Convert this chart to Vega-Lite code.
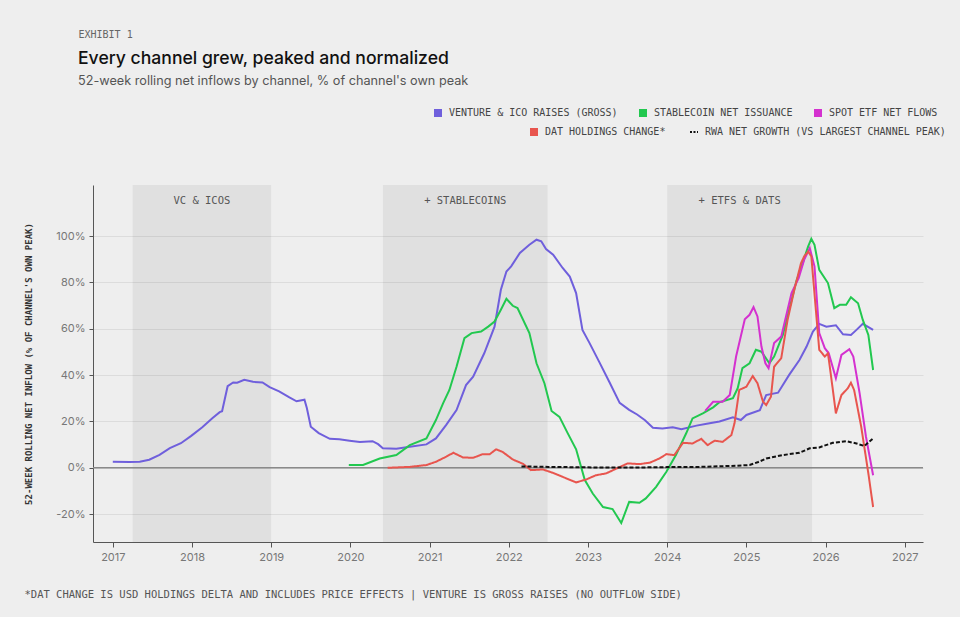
{
  "$schema": "https://vega.github.io/schema/vega-lite/v6.json",
  "width": 830,
  "height": 357,
  "autosize": "none",
  "padding": {"left": 93, "top": 185, "right": 37, "bottom": 75},
  "background": "#eeeeee",
  "title": {
    "text": "Every channel grew, peaked and normalized",
    "subtitle": "52-week rolling net inflows by channel, % of channel's own peak",
    "anchor": "start",
    "frame": "group",
    "dx": -15,
    "offset": -59,
    "font": "Inter",
    "fontSize": 17.6,
    "fontWeight": 500,
    "color": "#111111",
    "subtitleFont": "Inter",
    "subtitleFontSize": 12.7,
    "subtitleColor": "#555555",
    "subtitlePadding": 8
  },
  "config": {
    "view": {"stroke": null},
    "axis": {
      "labelFont": "Inter",
      "labelFontSize": 11,
      "labelColor": "#777777",
      "domainColor": "#555555",
      "tickColor": "#555555",
      "gridColor": "#dcdcdc",
      "titleFont": "DejaVu Sans Mono",
      "titleColor": "#333333"
    }
  },
  "datasets": {
    "bands": [
      {"start": 2017.25, "end": 2019.0, "mid": 2018.125, "label": "VC & ICOS"},
      {"start": 2020.41, "end": 2022.49, "mid": 2021.45, "label": "+ STABLECOINS"},
      {"start": 2024.0, "end": 2025.83, "mid": 2024.915, "label": "+ ETFS & DATS"}
    ],
    "series": [
      {"s": "venture", "t": 2017.00, "v": 2.6},
      {"s": "venture", "t": 2017.21, "v": 2.5},
      {"s": "venture", "t": 2017.34, "v": 2.6},
      {"s": "venture", "t": 2017.46, "v": 3.5},
      {"s": "venture", "t": 2017.59, "v": 5.6},
      {"s": "venture", "t": 2017.72, "v": 8.5},
      {"s": "venture", "t": 2017.86, "v": 10.6},
      {"s": "venture", "t": 2017.99, "v": 13.8},
      {"s": "venture", "t": 2018.13, "v": 17.5},
      {"s": "venture", "t": 2018.26, "v": 21.5},
      {"s": "venture", "t": 2018.35, "v": 24.0},
      {"s": "venture", "t": 2018.38, "v": 24.4},
      {"s": "venture", "t": 2018.45, "v": 35.2},
      {"s": "venture", "t": 2018.52, "v": 36.8},
      {"s": "venture", "t": 2018.57, "v": 36.7},
      {"s": "venture", "t": 2018.66, "v": 38.0},
      {"s": "venture", "t": 2018.77, "v": 37.1},
      {"s": "venture", "t": 2018.89, "v": 36.8},
      {"s": "venture", "t": 2018.98, "v": 34.8},
      {"s": "venture", "t": 2019.10, "v": 33.0},
      {"s": "venture", "t": 2019.23, "v": 30.4},
      {"s": "venture", "t": 2019.32, "v": 28.7},
      {"s": "venture", "t": 2019.42, "v": 29.4},
      {"s": "venture", "t": 2019.45, "v": 25.8},
      {"s": "venture", "t": 2019.50, "v": 17.7},
      {"s": "venture", "t": 2019.60, "v": 15.0},
      {"s": "venture", "t": 2019.74, "v": 12.5},
      {"s": "venture", "t": 2019.86, "v": 12.3},
      {"s": "venture", "t": 2019.99, "v": 11.7},
      {"s": "venture", "t": 2020.12, "v": 11.1},
      {"s": "venture", "t": 2020.28, "v": 11.5},
      {"s": "venture", "t": 2020.35, "v": 10.2},
      {"s": "venture", "t": 2020.41, "v": 8.4},
      {"s": "venture", "t": 2020.58, "v": 8.2},
      {"s": "venture", "t": 2020.75, "v": 9.1},
      {"s": "venture", "t": 2020.96, "v": 10.1},
      {"s": "venture", "t": 2021.08, "v": 12.7},
      {"s": "venture", "t": 2021.21, "v": 18.5},
      {"s": "venture", "t": 2021.34, "v": 24.9},
      {"s": "venture", "t": 2021.46, "v": 35.7},
      {"s": "venture", "t": 2021.55, "v": 39.3},
      {"s": "venture", "t": 2021.69, "v": 49.4},
      {"s": "venture", "t": 2021.82, "v": 60.9},
      {"s": "venture", "t": 2021.90, "v": 76.8},
      {"s": "venture", "t": 2021.97, "v": 84.7},
      {"s": "venture", "t": 2022.03, "v": 86.9},
      {"s": "venture", "t": 2022.14, "v": 92.7},
      {"s": "venture", "t": 2022.26, "v": 96.2},
      {"s": "venture", "t": 2022.35, "v": 98.4},
      {"s": "venture", "t": 2022.41, "v": 97.7},
      {"s": "venture", "t": 2022.47, "v": 94.4},
      {"s": "venture", "t": 2022.56, "v": 91.9},
      {"s": "venture", "t": 2022.68, "v": 86.2},
      {"s": "venture", "t": 2022.77, "v": 82.5},
      {"s": "venture", "t": 2022.85, "v": 75.4},
      {"s": "venture", "t": 2022.93, "v": 59.5},
      {"s": "venture", "t": 2023.02, "v": 53.8},
      {"s": "venture", "t": 2023.14, "v": 45.8},
      {"s": "venture", "t": 2023.27, "v": 37.0},
      {"s": "venture", "t": 2023.40, "v": 28.0},
      {"s": "venture", "t": 2023.52, "v": 25.0},
      {"s": "venture", "t": 2023.62, "v": 23.0},
      {"s": "venture", "t": 2023.72, "v": 20.5},
      {"s": "venture", "t": 2023.82, "v": 17.3},
      {"s": "venture", "t": 2023.94, "v": 17.0},
      {"s": "venture", "t": 2024.07, "v": 17.5},
      {"s": "venture", "t": 2024.18, "v": 16.6},
      {"s": "venture", "t": 2024.37, "v": 18.2},
      {"s": "venture", "t": 2024.50, "v": 19.0},
      {"s": "venture", "t": 2024.66, "v": 20.0},
      {"s": "venture", "t": 2024.83, "v": 21.8},
      {"s": "venture", "t": 2024.93, "v": 20.6},
      {"s": "venture", "t": 2025.00, "v": 22.8},
      {"s": "venture", "t": 2025.17, "v": 24.9},
      {"s": "venture", "t": 2025.25, "v": 31.4},
      {"s": "venture", "t": 2025.40, "v": 32.4},
      {"s": "venture", "t": 2025.54, "v": 40.1},
      {"s": "venture", "t": 2025.67, "v": 46.5},
      {"s": "venture", "t": 2025.76, "v": 52.3},
      {"s": "venture", "t": 2025.84, "v": 58.8},
      {"s": "venture", "t": 2025.92, "v": 62.1},
      {"s": "venture", "t": 2026.01, "v": 60.9},
      {"s": "venture", "t": 2026.13, "v": 61.5},
      {"s": "venture", "t": 2026.22, "v": 57.6},
      {"s": "venture", "t": 2026.32, "v": 57.3},
      {"s": "venture", "t": 2026.39, "v": 59.5},
      {"s": "venture", "t": 2026.47, "v": 62.1},
      {"s": "venture", "t": 2026.60, "v": 59.5},
      {"s": "stablecoin", "t": 2019.98, "v": 1.2},
      {"s": "stablecoin", "t": 2020.16, "v": 1.2},
      {"s": "stablecoin", "t": 2020.37, "v": 4.0},
      {"s": "stablecoin", "t": 2020.58, "v": 5.5},
      {"s": "stablecoin", "t": 2020.75, "v": 9.8},
      {"s": "stablecoin", "t": 2020.96, "v": 12.7},
      {"s": "stablecoin", "t": 2021.08, "v": 20.6},
      {"s": "stablecoin", "t": 2021.17, "v": 27.8},
      {"s": "stablecoin", "t": 2021.25, "v": 33.6},
      {"s": "stablecoin", "t": 2021.34, "v": 43.6},
      {"s": "stablecoin", "t": 2021.44, "v": 55.9},
      {"s": "stablecoin", "t": 2021.53, "v": 58.1},
      {"s": "stablecoin", "t": 2021.65, "v": 58.8},
      {"s": "stablecoin", "t": 2021.74, "v": 60.9},
      {"s": "stablecoin", "t": 2021.82, "v": 63.1},
      {"s": "stablecoin", "t": 2021.90, "v": 68.2},
      {"s": "stablecoin", "t": 2021.97, "v": 72.9},
      {"s": "stablecoin", "t": 2022.05, "v": 69.9},
      {"s": "stablecoin", "t": 2022.11, "v": 68.9},
      {"s": "stablecoin", "t": 2022.26, "v": 58.1},
      {"s": "stablecoin", "t": 2022.35, "v": 45.1},
      {"s": "stablecoin", "t": 2022.45, "v": 36.5},
      {"s": "stablecoin", "t": 2022.54, "v": 24.5},
      {"s": "stablecoin", "t": 2022.64, "v": 22.0},
      {"s": "stablecoin", "t": 2022.74, "v": 15.2},
      {"s": "stablecoin", "t": 2022.85, "v": 8.0},
      {"s": "stablecoin", "t": 2022.96, "v": -5.3},
      {"s": "stablecoin", "t": 2023.06, "v": -11.1},
      {"s": "stablecoin", "t": 2023.19, "v": -16.9},
      {"s": "stablecoin", "t": 2023.31, "v": -17.8},
      {"s": "stablecoin", "t": 2023.42, "v": -23.8},
      {"s": "stablecoin", "t": 2023.52, "v": -14.7},
      {"s": "stablecoin", "t": 2023.65, "v": -15.1},
      {"s": "stablecoin", "t": 2023.73, "v": -13.2},
      {"s": "stablecoin", "t": 2023.86, "v": -8.2},
      {"s": "stablecoin", "t": 2023.99, "v": -1.7},
      {"s": "stablecoin", "t": 2024.11, "v": 5.5},
      {"s": "stablecoin", "t": 2024.24, "v": 14.9},
      {"s": "stablecoin", "t": 2024.32, "v": 21.3},
      {"s": "stablecoin", "t": 2024.45, "v": 23.5},
      {"s": "stablecoin", "t": 2024.58, "v": 26.1},
      {"s": "stablecoin", "t": 2024.66, "v": 28.3},
      {"s": "stablecoin", "t": 2024.83, "v": 30.0},
      {"s": "stablecoin", "t": 2024.89, "v": 34.3},
      {"s": "stablecoin", "t": 2024.95, "v": 43.0},
      {"s": "stablecoin", "t": 2025.04, "v": 45.1},
      {"s": "stablecoin", "t": 2025.12, "v": 50.9},
      {"s": "stablecoin", "t": 2025.19, "v": 50.1},
      {"s": "stablecoin", "t": 2025.29, "v": 45.1},
      {"s": "stablecoin", "t": 2025.35, "v": 48.0},
      {"s": "stablecoin", "t": 2025.46, "v": 57.3},
      {"s": "stablecoin", "t": 2025.54, "v": 68.2},
      {"s": "stablecoin", "t": 2025.63, "v": 80.4},
      {"s": "stablecoin", "t": 2025.71, "v": 88.3},
      {"s": "stablecoin", "t": 2025.78, "v": 95.5},
      {"s": "stablecoin", "t": 2025.82, "v": 98.8},
      {"s": "stablecoin", "t": 2025.86, "v": 96.2},
      {"s": "stablecoin", "t": 2025.92, "v": 85.4},
      {"s": "stablecoin", "t": 2026.03, "v": 79.7},
      {"s": "stablecoin", "t": 2026.11, "v": 68.9},
      {"s": "stablecoin", "t": 2026.18, "v": 70.3},
      {"s": "stablecoin", "t": 2026.26, "v": 70.3},
      {"s": "stablecoin", "t": 2026.32, "v": 73.6},
      {"s": "stablecoin", "t": 2026.41, "v": 71.0},
      {"s": "stablecoin", "t": 2026.47, "v": 63.8},
      {"s": "stablecoin", "t": 2026.54, "v": 57.3},
      {"s": "stablecoin", "t": 2026.60, "v": 42.2},
      {"s": "etf", "t": 2024.48, "v": 24.6},
      {"s": "etf", "t": 2024.58, "v": 28.5},
      {"s": "etf", "t": 2024.70, "v": 28.5},
      {"s": "etf", "t": 2024.79, "v": 31.4},
      {"s": "etf", "t": 2024.87, "v": 48.0},
      {"s": "etf", "t": 2024.98, "v": 64.1},
      {"s": "etf", "t": 2025.04, "v": 66.0},
      {"s": "etf", "t": 2025.09, "v": 69.3},
      {"s": "etf", "t": 2025.14, "v": 65.3},
      {"s": "etf", "t": 2025.19, "v": 52.3},
      {"s": "etf", "t": 2025.24, "v": 45.1},
      {"s": "etf", "t": 2025.28, "v": 43.0},
      {"s": "etf", "t": 2025.35, "v": 53.8},
      {"s": "etf", "t": 2025.44, "v": 56.6},
      {"s": "etf", "t": 2025.57, "v": 75.4},
      {"s": "etf", "t": 2025.66, "v": 81.8},
      {"s": "etf", "t": 2025.73, "v": 89.8},
      {"s": "etf", "t": 2025.80, "v": 94.8},
      {"s": "etf", "t": 2025.86, "v": 86.9},
      {"s": "etf", "t": 2025.92, "v": 58.1},
      {"s": "etf", "t": 2025.99, "v": 51.6},
      {"s": "etf", "t": 2026.04, "v": 49.4},
      {"s": "etf", "t": 2026.13, "v": 38.6},
      {"s": "etf", "t": 2026.20, "v": 48.7},
      {"s": "etf", "t": 2026.30, "v": 51.2},
      {"s": "etf", "t": 2026.35, "v": 48.0},
      {"s": "etf", "t": 2026.43, "v": 32.1},
      {"s": "etf", "t": 2026.51, "v": 13.4},
      {"s": "etf", "t": 2026.60, "v": -3.2},
      {"s": "dat", "t": 2020.47, "v": 0.0},
      {"s": "dat", "t": 2020.75, "v": 0.4},
      {"s": "dat", "t": 2020.96, "v": 1.2},
      {"s": "dat", "t": 2021.08, "v": 2.6},
      {"s": "dat", "t": 2021.21, "v": 4.8},
      {"s": "dat", "t": 2021.30, "v": 6.5},
      {"s": "dat", "t": 2021.42, "v": 4.5},
      {"s": "dat", "t": 2021.55, "v": 4.3},
      {"s": "dat", "t": 2021.67, "v": 5.9},
      {"s": "dat", "t": 2021.76, "v": 5.9},
      {"s": "dat", "t": 2021.84, "v": 8.0},
      {"s": "dat", "t": 2021.92, "v": 6.9},
      {"s": "dat", "t": 2022.05, "v": 3.6},
      {"s": "dat", "t": 2022.18, "v": 1.7},
      {"s": "dat", "t": 2022.28, "v": -1.0},
      {"s": "dat", "t": 2022.43, "v": -0.7},
      {"s": "dat", "t": 2022.56, "v": -2.2},
      {"s": "dat", "t": 2022.68, "v": -3.9},
      {"s": "dat", "t": 2022.85, "v": -6.3},
      {"s": "dat", "t": 2022.98, "v": -5.0},
      {"s": "dat", "t": 2023.10, "v": -3.2},
      {"s": "dat", "t": 2023.23, "v": -2.4},
      {"s": "dat", "t": 2023.36, "v": -0.3},
      {"s": "dat", "t": 2023.50, "v": 1.9},
      {"s": "dat", "t": 2023.65, "v": 1.6},
      {"s": "dat", "t": 2023.78, "v": 2.2},
      {"s": "dat", "t": 2023.90, "v": 4.0},
      {"s": "dat", "t": 2023.99, "v": 5.9},
      {"s": "dat", "t": 2024.09, "v": 5.5},
      {"s": "dat", "t": 2024.20, "v": 10.8},
      {"s": "dat", "t": 2024.32, "v": 10.5},
      {"s": "dat", "t": 2024.43, "v": 12.5},
      {"s": "dat", "t": 2024.51, "v": 9.8},
      {"s": "dat", "t": 2024.60, "v": 11.7},
      {"s": "dat", "t": 2024.70, "v": 11.2},
      {"s": "dat", "t": 2024.81, "v": 14.1},
      {"s": "dat", "t": 2024.85, "v": 19.2},
      {"s": "dat", "t": 2024.91, "v": 33.6},
      {"s": "dat", "t": 2025.00, "v": 35.0},
      {"s": "dat", "t": 2025.08, "v": 39.6},
      {"s": "dat", "t": 2025.14, "v": 36.5},
      {"s": "dat", "t": 2025.21, "v": 28.5},
      {"s": "dat", "t": 2025.25, "v": 27.1},
      {"s": "dat", "t": 2025.31, "v": 30.7},
      {"s": "dat", "t": 2025.35, "v": 43.6},
      {"s": "dat", "t": 2025.44, "v": 47.3},
      {"s": "dat", "t": 2025.52, "v": 63.8},
      {"s": "dat", "t": 2025.61, "v": 77.5},
      {"s": "dat", "t": 2025.69, "v": 88.3},
      {"s": "dat", "t": 2025.73, "v": 91.2},
      {"s": "dat", "t": 2025.78, "v": 93.3},
      {"s": "dat", "t": 2025.82, "v": 91.2},
      {"s": "dat", "t": 2025.87, "v": 71.0},
      {"s": "dat", "t": 2025.92, "v": 50.9},
      {"s": "dat", "t": 2025.99, "v": 48.0},
      {"s": "dat", "t": 2026.03, "v": 49.4},
      {"s": "dat", "t": 2026.07, "v": 39.3},
      {"s": "dat", "t": 2026.13, "v": 23.5},
      {"s": "dat", "t": 2026.20, "v": 31.4},
      {"s": "dat", "t": 2026.28, "v": 34.3},
      {"s": "dat", "t": 2026.32, "v": 36.7},
      {"s": "dat", "t": 2026.36, "v": 33.6},
      {"s": "dat", "t": 2026.45, "v": 17.7},
      {"s": "dat", "t": 2026.54, "v": -2.4},
      {"s": "dat", "t": 2026.60, "v": -16.9},
      {"s": "rwa", "t": 2022.16, "v": 0.6},
      {"s": "rwa", "t": 2022.50, "v": 0.4},
      {"s": "rwa", "t": 2023.00, "v": 0.2},
      {"s": "rwa", "t": 2023.50, "v": 0.1},
      {"s": "rwa", "t": 2024.00, "v": 0.3},
      {"s": "rwa", "t": 2024.41, "v": 0.4},
      {"s": "rwa", "t": 2024.80, "v": 0.8},
      {"s": "rwa", "t": 2025.04, "v": 1.2},
      {"s": "rwa", "t": 2025.15, "v": 2.5},
      {"s": "rwa", "t": 2025.25, "v": 4.0},
      {"s": "rwa", "t": 2025.46, "v": 5.5},
      {"s": "rwa", "t": 2025.67, "v": 6.5},
      {"s": "rwa", "t": 2025.80, "v": 8.4},
      {"s": "rwa", "t": 2025.92, "v": 8.8},
      {"s": "rwa", "t": 2026.09, "v": 10.8},
      {"s": "rwa", "t": 2026.26, "v": 11.5},
      {"s": "rwa", "t": 2026.39, "v": 10.5},
      {"s": "rwa", "t": 2026.49, "v": 9.4},
      {"s": "rwa", "t": 2026.60, "v": 12.7}
    ]
  },
  "layer": [
    {
      "data": {"name": "bands"},
      "mark": {"type": "rect", "color": "#000000", "opacity": 0.055},
      "encoding": {
        "x": {
          "field": "start",
          "type": "quantitative",
          "scale": {"domain": [2016.75, 2027.23], "nice": false, "zero": false},
          "axis": {
            "orient": "top",
            "title": "EXHIBIT 1",
            "labels": false,
            "ticks": false,
            "domain": false,
            "grid": false,
            "titleX": -15,
            "titleY": -148,
            "titleAlign": "left",
            "titleBaseline": "alphabetic",
            "titleFontSize": 10,
            "titleFontWeight": "normal",
            "titleColor": "#666666"
          }
        },
        "x2": {"field": "end"}
      }
    },
    {
      "data": {"name": "bands"},
      "mark": {"type": "text", "font": "DejaVu Sans Mono", "fontSize": 10.5, "color": "#555555", "baseline": "middle"},
      "encoding": {
        "x": {"field": "mid", "type": "quantitative", "scale": {"domain": [2016.75, 2027.23], "nice": false, "zero": false}, "axis": null},
        "y": {"datum": 115, "type": "quantitative"},
        "text": {"field": "label"}
      }
    },
    {
      "data": {"values": [{}]},
      "mark": {"type": "rule", "color": "#8a8a8a", "strokeWidth": 1.5},
      "encoding": {"y": {"datum": 0, "type": "quantitative"}}
    },
    {
      "data": {"name": "series"},
      "transform": [{"filter": "indexof(['venture', 'stablecoin', 'etf'], datum.s) >= 0"}],
      "mark": {"type": "line", "strokeWidth": 2},
      "encoding": {
        "x": {
          "field": "t",
          "type": "quantitative",
          "scale": {"domain": [2016.75, 2027.23], "nice": false, "zero": false},
          "axis": {
            "values": [2017, 2018, 2019, 2020, 2021, 2022, 2023, 2024, 2025, 2026, 2027],
            "format": "d",
            "grid": false,
            "tickSize": 5,
            "labelPadding": 4,
            "title": "*DAT CHANGE IS USD HOLDINGS DELTA AND INCLUDES PRICE EFFECTS | VENTURE IS GROSS RAISES (NO OUTFLOW SIDE)",
            "titleX": -69,
            "titleY": 55,
            "titleAlign": "left",
            "titleAnchor": "start",
            "titleBaseline": "alphabetic",
            "titleFontSize": 10.5,
            "titleFontWeight": "normal",
            "titleColor": "#555555"
          }
        },
        "y": {
          "field": "v",
          "type": "quantitative",
          "scale": {"domain": [-32, 122], "nice": false},
          "axis": {
            "title": "52-WEEK ROLLING NET INFLOW (% OF CHANNEL'S OWN PEAK)",
            "values": [-20, 0, 20, 40, 60, 80, 100],
            "labelExpr": "datum.value + '%'",
            "grid": true,
            "tickSize": 4,
            "labelPadding": 4,
            "titleX": -60,
            "titleFontSize": 9,
            "titleFontWeight": "bold"
          }
        },
        "color": {
          "field": "s",
          "type": "nominal",
          "scale": {"domain": ["venture", "stablecoin", "etf"], "range": ["#6f5fdc", "#22c84f", "#d431cf"]},
          "legend": {
            "orient": "none",
            "legendX": 340,
            "legendY": -77,
            "direction": "horizontal",
            "title": null,
            "symbolType": "square",
            "symbolSize": 64,
            "labelFont": "DejaVu Sans Mono",
            "labelFontSize": 10,
            "labelLimit": 0,
            "labelColor": "#444444",
            "labelOffset": 6,
            "columnPadding": 20,
            "labelExpr": "datum.value == 'venture' ? 'VENTURE & ICO RAISES (GROSS)' : datum.value == 'stablecoin' ? 'STABLECOIN NET ISSUANCE' : 'SPOT ETF NET FLOWS'",
            "encode": {
              "symbols": {
                "update": {
                  "fill": {"scale": "color", "field": "value"},
                  "strokeWidth": {"value": 0}
                }
              }
            }
          }
        }
      }
    },
    {
      "data": {"name": "series"},
      "transform": [{"filter": "indexof(['dat', 'rwa'], datum.s) >= 0"}],
      "mark": {"type": "line", "strokeWidth": 2},
      "encoding": {
        "x": {"field": "t", "type": "quantitative", "scale": {"domain": [2016.75, 2027.23], "nice": false, "zero": false}, "axis": null},
        "y": {"field": "v", "type": "quantitative"},
        "stroke": {
          "field": "s",
          "type": "nominal",
          "scale": {"domain": ["dat", "rwa"], "range": ["#e8554e", "#111111"]},
          "legend": {
            "orient": "none",
            "legendX": 436,
            "legendY": -58,
            "direction": "horizontal",
            "title": null,
            "symbolSize": 64,
            "labelFont": "DejaVu Sans Mono",
            "labelFontSize": 10,
            "labelLimit": 0,
            "labelColor": "#444444",
            "labelOffset": 6,
            "columnPadding": 20,
            "labelExpr": "datum.value == 'dat' ? 'DAT HOLDINGS CHANGE*' : 'RWA NET GROWTH (VS LARGEST CHANNEL PEAK)'",
            "encode": {
              "symbols": {
                "update": {
                  "shape": {"signal": "datum.value == 'rwa' ? 'stroke' : 'square'"},
                  "fill": {"signal": "datum.value == 'rwa' ? 'transparent' : '#e8554e'"},
                  "stroke": {"signal": "datum.value == 'rwa' ? '#111111' : 'transparent'"},
                  "strokeWidth": {"signal": "datum.value == 'rwa' ? 2 : 0"},
                  "strokeDash": {"signal": "datum.value == 'rwa' ? [2, 1.5] : [1, 0]"}
                }
              }
            }
          }
        },
        "strokeDash": {"condition": {"test": "datum.s == 'rwa'", "value": [4, 2]}, "value": [1, 0]}
      }
    }
  ],
  "resolve": {"axis": {"x": "independent"}}
}
